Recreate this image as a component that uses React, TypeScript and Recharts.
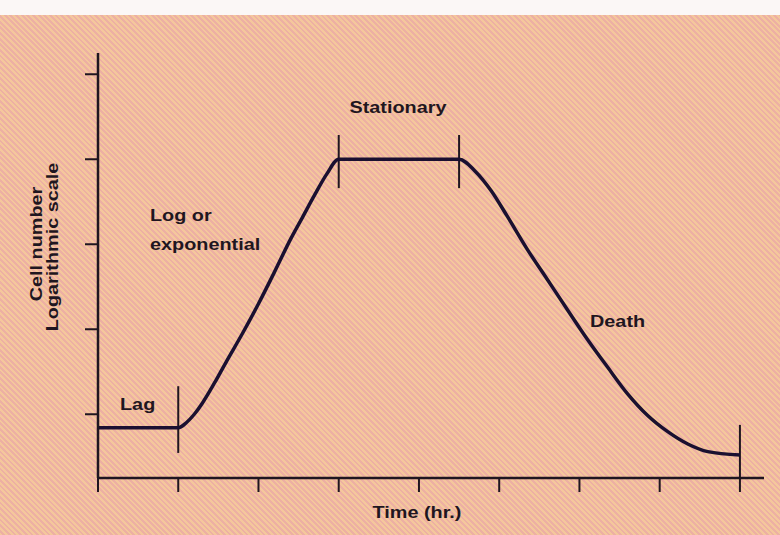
import React from "react";
import { LineChart, Line, XAxis, YAxis, ReferenceLine } from "recharts";

// time (hr.) and log cell number
const hours = [0, 1, 1.1, 1.2, 1.3, 1.45, 1.6, 1.8, 2, 2.2, 2.4, 2.55, 2.7, 2.85, 3, 4.5, 4.7, 4.9, 5.1, 5.35, 5.6, 5.85, 6.1, 6.35, 6.6, 6.85, 7.1, 7.35, 7.6, 8];
const logCells = [1.18, 1.18, 1.3, 1.5, 1.76, 2.23, 2.74, 3.4, 4.1, 4.85, 5.62, 6.14, 6.66, 7.15, 7.5, 7.5, 7.22, 6.76, 6.16, 5.38, 4.67, 3.96, 3.26, 2.61, 1.98, 1.47, 1.09, 0.8, 0.62, 0.54];

const timeTicks = [0, 1, 2, 3, 4, 5, 6, 7, 8];
const cellTicks = [1.5, 3.5, 5.5, 7.5, 9.5];

// phase boundary markers: [hour, from, to]
const phaseMarks: [number, number, number][] = [
  [1, 0.59, 2.16],
  [3, 6.82, 8.07],
  [4.5, 6.82, 8.07],
  [8, 0, 1.25],
];

const data = hours.map((h, i) => ({ h, v: logCells[i] }));

const INK = "#1f1620";
const FONT = "'Liberation Sans', Arial, sans-serif";

const NoTick = () => <g />;

const Note = ({ x, y, text, anchor = "start", rotate = false }: { x: number; y: number; text: string; anchor?: string; rotate?: boolean }) => (
  <text
    transform={`translate(${x},${y}) ${rotate ? "rotate(-90) " : ""}scale(1.24,1)`}
    textAnchor={anchor}
    fontFamily={FONT}
    fontWeight="bold"
    fontSize={16}
    fill={INK}
  >
    {text}
  </text>
);

export default function App() {
  return (
    <div
      style={{
        position: "absolute",
        left: 0,
        top: 0,
        width: 780,
        height: 535,
        background:
          "linear-gradient(#fbf7f6 0, #fbf7f6 15px, transparent 15px), repeating-linear-gradient(45deg, #f4c79c 0 2px, #edb0a3 2px 4px)",
      }}
    >
      <LineChart width={780} height={535} data={data} margin={{ top: 53, right: 16, bottom: 27, left: 38 }}>
        <XAxis
          dataKey="h"
          type="number"
          domain={[0, 8.3]}
          ticks={timeTicks}
          tick={NoTick}
          tickSize={14}
          height={30}
          axisLine={{ stroke: INK, strokeWidth: 2.5 }}
          tickLine={{ stroke: INK, strokeWidth: 2 }}
        />
        <YAxis
          type="number"
          domain={[0, 10]}
          ticks={cellTicks}
          tick={NoTick}
          tickSize={13}
          width={60}
          axisLine={{ stroke: INK, strokeWidth: 2.5 }}
          tickLine={{ stroke: INK, strokeWidth: 2 }}
        />
        {phaseMarks.map(([h, a, b]) => (
          <ReferenceLine
            key={h}
            segment={[{ x: h, y: a }, { x: h, y: b }]}
            stroke={INK}
            strokeWidth={2}
          />
        ))}
        <Line
          type="monotone"
          dataKey="v"
          stroke="#1a1030"
          strokeWidth={3.5}
          dot={false}
          isAnimationActive={false}
        />
      </LineChart>
      <svg width={780} height={535} style={{ position: "absolute", left: 0, top: 0, pointerEvents: "none" }}>
        <Note x={398} y={113} text="Stationary" anchor="middle" />
        <Note x={150} y={221} text="Log or" />
        <Note x={150} y={250} text="exponential" />
        <Note x={590} y={327} text="Death" />
        <Note x={120} y={410} text="Lag" />
        <Note x={417} y={518} text="Time (hr.)" anchor="middle" />
        <Note x={42} y={244} text="Cell number" anchor="middle" rotate />
        <Note x={58} y={247} text="Logarithmic scale" anchor="middle" rotate />
      </svg>
    </div>
  );
}
